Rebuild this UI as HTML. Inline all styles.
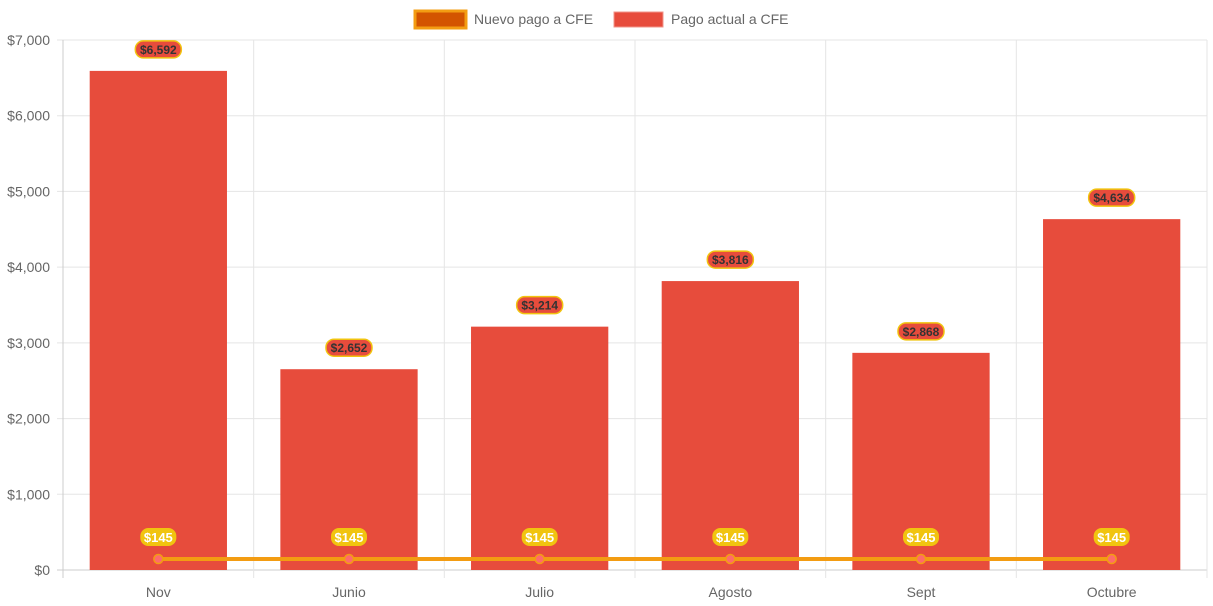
<!DOCTYPE html>
<html><head><meta charset="utf-8"><style>
html,body{margin:0;padding:0;background:#fff;}
svg{display:block;font-family:"Liberation Sans",Arial,sans-serif;}
</style></head><body>
<svg id="c" width="1213" height="606">
<g>
<g>
<rect x="415" y="11" width="51" height="17" fill="#d35400" stroke="#f39c12" stroke-width="3"/>
<text x="474" y="24" font-size="14" fill="#666">Nuevo pago a CFE</text></g>
<g>
<rect x="614" y="12" width="49" height="15" fill="#e74c3c" stroke="#f1948a" stroke-width="1"/>
<text x="671" y="24" font-size="14" fill="#666">Pago actual a CFE</text></g>
</g>
<g id="grid"></g><g id="bars"></g><g id="line"></g><g id="labels"></g>
</svg>
<script>
const categories=["Nov","Junio","Julio","Agosto","Sept","Octubre"];
const actualValues=[6592,2652,3214,3816,2868,4634];
const nuevoValues=[145,145,145,145,145,145];
const yTicks=[0,1000,2000,3000,4000,5000,6000,7000];
const NS="http://www.w3.org/2000/svg";
const L=63,R=1207,T=40,B=570,MAX=7000;
const bw=(R-L)/categories.length;
const y=v=>B-(v/MAX)*(B-T);
const x=i=>L+bw*(i+0.5);
function mk(tag,at,parent,txt){const e=document.createElementNS(NS,tag);for(const k in at)e.setAttribute(k,at[k]);if(txt!=null)e.textContent=txt;document.getElementById(parent).appendChild(e);return e;}
const fmt=v=>"$"+v.toLocaleString("en-US");
yTicks.forEach(t=>{
 const g=mk("line",{x1:57,x2:R,y1:y(t),y2:y(t),stroke:t===0?"#ccc":"#e5e5e5","stroke-width":1},"grid");
 
 
 const tx=mk("text",{x:50,y:y(t)+5,"text-anchor":"end","font-size":14,fill:"#666"},"grid",fmt(t));
 
 
});
for(let i=0;i<=categories.length;i++){
 const gx=L+bw*i;
 const g=mk("line",{x1:gx,x2:gx,y1:T,y2:578,stroke:i===0?"#ccc":"#e5e5e5","stroke-width":1},"grid");
 
 
}
categories.forEach((c,i)=>{
 const tx=mk("text",{x:x(i),y:597,"text-anchor":"middle","font-size":14,fill:"#666"},"grid",c);
 
 
 const w=bw*0.72;
 const b=mk("rect",{x:x(i)-w/2,y:y(actualValues[i]),width:w,height:B-y(actualValues[i]),fill:"#e74c3c"},"bars");
 
 
 const ly=y(actualValues[i])-22;
 const p=mk("rect",{x:x(i)-23,y:ly-8,width:46,height:17,rx:8,fill:"#e74c3c",stroke:"#f1c40f","stroke-width":1.5},"labels");
 
 
 const t=mk("text",{x:x(i),y:ly+5,"text-anchor":"middle","font-size":12,"font-weight":"bold",fill:"#333"},"labels",fmt(actualValues[i]));
 
 
});
let d=nuevoValues.map((v,i)=>(i?"L":"M")+x(i)+" "+y(v)).join(" ");
const pl=mk("path",{d:d,stroke:"#f39c12","stroke-width":4,fill:"none"},"line");


nuevoValues.forEach((v,i)=>{
 const c=mk("circle",{cx:x(i),cy:y(v),r:4.5,fill:"#ff6b6b",stroke:"#f39c12","stroke-width":1.5},"line");
 
 
 const ly=y(v)-22;
 const p=mk("rect",{x:x(i)-18,y:ly-9,width:36,height:18,rx:8,fill:"#f1c40f"},"labels");
 
 
 const t=mk("text",{x:x(i),y:ly+5,"text-anchor":"middle","font-size":13,"font-weight":"bold",fill:"#fff"},"labels",fmt(v));
 
 
});
</script>
</body></html>
